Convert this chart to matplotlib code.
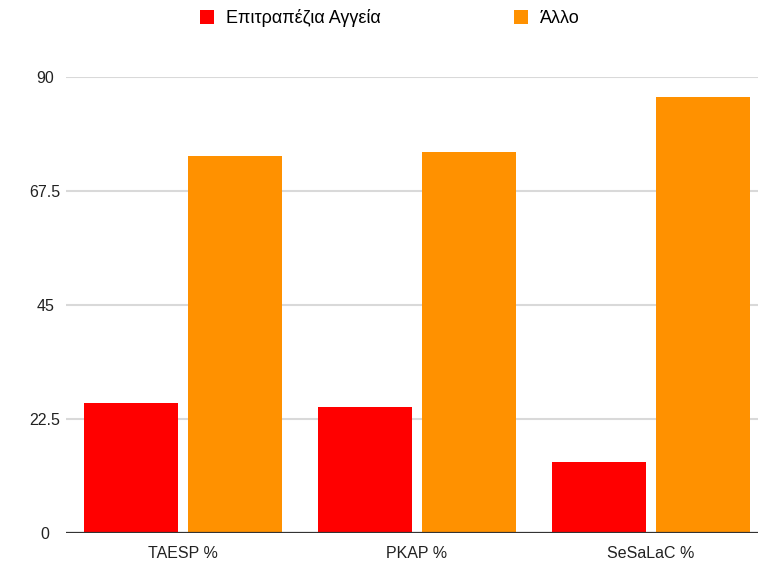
import numpy as np
import matplotlib
matplotlib.use("Agg")
import matplotlib.pyplot as plt

# data
categories = ["TAESP %", "PKAP %", "SeSaLaC %"]
series_names = ["Επιτραπέζια Αγγεία", "Άλλο"]
tableware = [25.6, 24.8, 14.0]
other = [74.4, 75.2, 86.0]
yticks = [0, 22.5, 45, 67.5, 90]

plt.rcParams['font.family'] = ['Liberation Sans', 'DejaVu Sans']

fig = plt.figure(figsize=(7.58, 5.62), dpi=100)
ax = fig.add_axes([66/758, 29/562, 1 - 66/758, 456/562])

x = np.arange(len(categories))
w = 94/234
off = 52/234
b1 = ax.bar(x - off, tableware, w, color="#ff0000", zorder=3, label=series_names[0])
b2 = ax.bar(x + off, other, w, color="#ff9100", zorder=3, label=series_names[1])

ax.set_xlim(-0.5, (758 - 183)/234)
ax.set_ylim(0, 90)
ax.set_xticks(x)
ax.set_xticklabels(categories)
ax.set_yticks(yticks)
ax.set_yticklabels(["0", "22.5", "45", "67.5", "90"])
for lab in ax.get_yticklabels():
    lab.set_horizontalalignment("center")
ax.tick_params(axis="y", length=0, pad=15, labelsize=11.5, colors="#222222")
ax.tick_params(axis="x", length=0, pad=9, labelsize=11.5, colors="#222222")

ax.grid(axis="y", color="#d9d9d9", linewidth=1.5, zorder=0)
ax.axhline(0, color="#333333", linewidth=1.6, zorder=4)
for s in ax.spines.values():
    s.set_visible(False)

fig.legend(handles=[b1, b2], loc="center", bbox_to_anchor=(0.514, 1 - 18/562),
           ncol=2, frameon=False, fontsize=13, handlelength=0.78, handleheight=0.78,
           handletextpad=0.65, columnspacing=7.4)

fig.savefig("out.png", dpi=100)
